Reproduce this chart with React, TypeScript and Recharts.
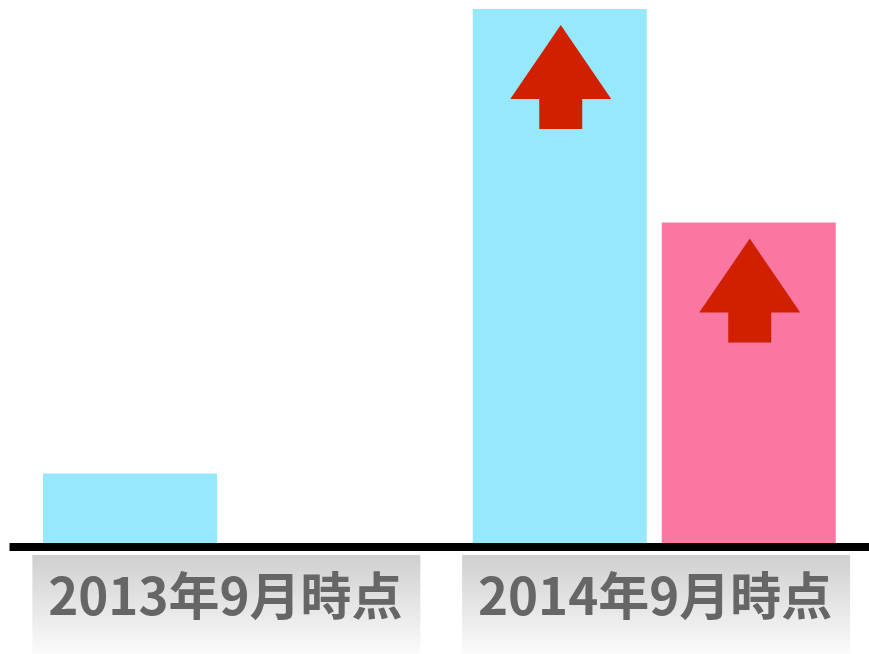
import React from 'react';
import { BarChart, Bar, XAxis, YAxis, Rectangle } from 'recharts';

const categories = ['2013年9月時点', '2014年9月時点'];
const blueValues = [13, 100];
const pinkValues = [0, 60];
const showArrow = [false, true];

const data = categories.map((name, i) => ({
  name,
  blue: blueValues[i],
  pink: pinkValues[i],
  arrow: showArrow[i],
}));

const ARROW_RED = '#D02000';

// bar with an up arrow drawn inside, when the category is flagged
const ArrowBar = (props: any) => {
  const { x, y, width, height, fill, payload } = props;
  if (!height || height <= 0) return null;
  const cx = x + width / 2 + 1;
  const pts = [
    [cx, y + 16],
    [cx + 50.5, y + 90],
    [cx + 21.5, y + 90],
    [cx + 21.5, y + 120],
    [cx - 21.5, y + 120],
    [cx - 21.5, y + 90],
    [cx - 50.5, y + 90],
  ]
    .map((p) => p.join(','))
    .join(' ');
  return (
    <g>
      <Rectangle x={x} y={y} width={width} height={height} fill={fill} />
      {payload && payload.arrow && <polygon points={pts} fill={ARROW_RED} />}
    </g>
  );
};

const LabelTick = (props: any) => {
  const { x, payload, index } = props;
  const top = 555;
  const id = `lblgrad${index}`;
  return (
    <g>
      <defs>
        <linearGradient id={id} x1="0" y1="0" x2="0" y2="1">
          <stop offset="0%" stopColor="#cfcfcf" />
          <stop offset="100%" stopColor="#fbfbfb" />
        </linearGradient>
      </defs>
      <rect x={x - 192} y={top} width={388} height={99} fill={`url(#${id})`} />
      <text
        x={x + 1}
        y={top + 60}
        textAnchor="middle"
        fontFamily="'Noto Sans CJK JP', 'Noto Sans', sans-serif"
        fontWeight="bold"
        fontSize={51}
        fill="#666666"
      >
        {payload.value}
      </text>
    </g>
  );
};

export default function App() {
  return (
    <div style={{ position: 'absolute', left: 0, top: 0, background: '#fff' }}>
      <BarChart
        width={869}
        height={654}
        data={data}
        margin={{ top: 9, right: 0, left: 9.5, bottom: 0 }}
        barGap={15}
        barCategoryGap={33.5}
      >
        <XAxis
          dataKey="name"
          height={111}
          tickLine={false}
          interval={0}
          tick={<LabelTick />}
          axisLine={{ stroke: '#000', strokeWidth: 8, transform: 'translate(0,4)' }}
        />
        <YAxis hide domain={[0, 100]} />
        <Bar dataKey="blue" fill="#96E8FD" shape={<ArrowBar />} isAnimationActive={false} />
        <Bar dataKey="pink" fill="#F977A1" shape={<ArrowBar />} isAnimationActive={false} />
      </BarChart>
    </div>
  );
}
